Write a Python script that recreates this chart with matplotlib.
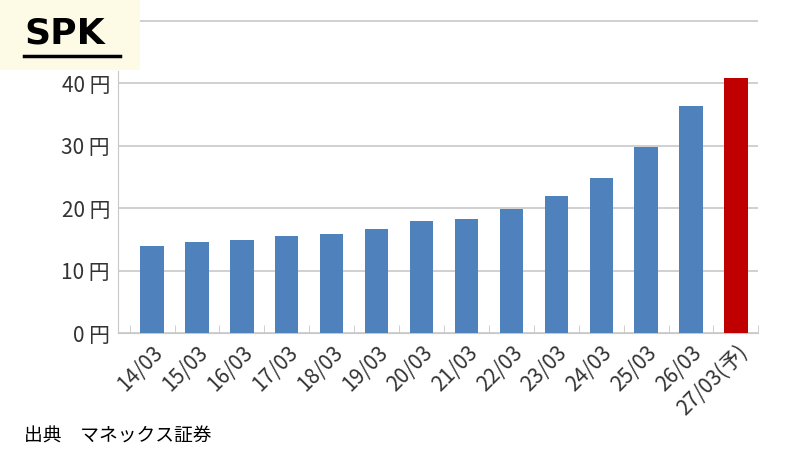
import matplotlib.pyplot as plt
import numpy as np

plt.rcParams['font.family'] = ['Noto Sans CJK JP', 'DejaVu Sans']

labels = ["14/03", "15/03", "16/03", "17/03", "18/03", "19/03", "20/03",
          "21/03", "22/03", "23/03", "24/03", "25/03", "26/03", "27/03(予)"]
values = [13.9, 14.6, 14.9, 15.6, 15.9, 16.6, 17.9, 18.3, 19.9, 21.9, 24.8, 29.8, 36.4, 40.9]

fig = plt.figure(figsize=(8, 4.5), dpi=100)
ax = fig.add_axes([0.148, 0.26, 0.80, 0.70])

x = np.arange(len(values))
colors = ["#4f81bd"] * (len(values) - 1) + ["#c00000"]
ax.bar(x, values, width=0.52, color=colors, zorder=3)

ax.set_ylim(0, 50.5)
ax.set_xlim(-0.75, len(values) - 0.5)
ax.set_yticks([0, 10, 20, 30, 40, 50])
ax.set_yticklabels(["0 円", "10 円", "20 円", "30 円", "40 円", ""], fontsize=15, color="#333333")
ax.yaxis.grid(True, color="#c8c8c8", linewidth=1.2, zorder=0)
ax.tick_params(axis="y", length=0, pad=6)

ax.set_xticks(x)
ax.set_xticklabels(labels, rotation=45, ha="right", rotation_mode="anchor", fontsize=15, color="#333333")
ax.set_xticks(np.arange(len(values) + 1) - 0.5, minor=True)
ax.tick_params(axis="x", which="major", length=0, pad=6)
ax.tick_params(axis="x", which="minor", length=6, color="#c8c8c8", direction="in")

for s in ["top", "right"]:
    ax.spines[s].set_visible(False)
ax.spines["left"].set_color("#c8c8c8")
ax.spines["bottom"].set_color("#c8c8c8")
ax.spines["left"].set_bounds(0, 42)

fig.patches.append(plt.Rectangle((0.0, 0.845), 0.175, 0.155, transform=fig.transFigure,
                                 facecolor="#fdfbe6", edgecolor="none", zorder=5))
fig.text(0.03, 0.925, "SPK", fontsize=26, fontweight="bold", va="center", zorder=6,
         family=["DejaVu Sans"])
fig.lines.append(plt.Line2D([0.03, 0.15], [0.875, 0.875], transform=fig.transFigure,
                            color="black", linewidth=2.5, zorder=6))

fig.text(0.03, 0.018, "出典　マネックス証券", fontsize=13.5)

fig.savefig("out.png", dpi=100)
